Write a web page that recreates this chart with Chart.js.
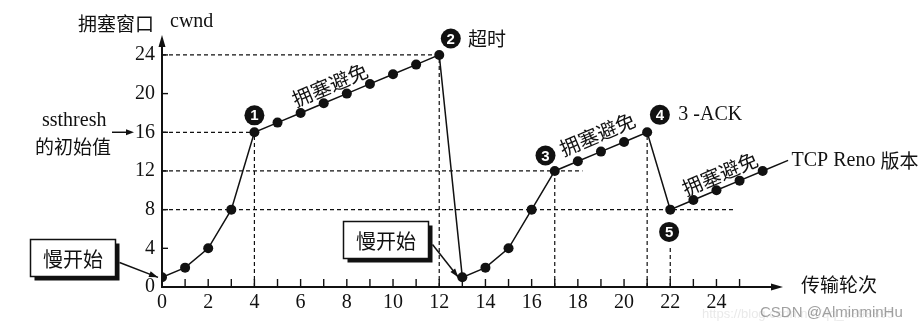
<!DOCTYPE html>
<html><head><meta charset="utf-8">
<script src="https://cdn.jsdelivr.net/npm/chart.js@4/dist/chart.umd.min.js"></script>
<style>html,body{margin:0;padding:0;background:#fff}#wrap{width:919px;height:328px;position:relative}</style>
</head><body><div id="wrap"><canvas id="c" width="919" height="328"></canvas></div>
<script>
// ---- data ----
const rounds = [0,1,2,3,4,5,6,7,8,9,10,11,12,13,14,15,16,17,18,19,20,21,22,23,24,25,26];
const cwnd   = [1,2,4,8,16,17,18,19,20,21,22,23,24,1,2,4,8,12,13,14,15,16,8,9,10,11,12];
const xTickValues = [0,1,2,3,4,5,6,7,8,9,10,11,12,13,14,15,16,17,18,19,20,21,22,23,24,25];
const xTickLabels = ['0','2','4','6','8','10','12','14','16','18','20','22','24'];
const yTickValues = [0,4,8,12,16,20,24];
// dashed guides: horizontal [y, xFrom, xTo], vertical [x, yFrom, yTo]
const hGuides = [[24,0,12],[16,0,4],[12,0,18.2],[8,0,24.8]];
const vGuides = [[4,0,16],[12,0,24],[17,0,12],[21,0,16],[22,0,4.3]];

const SERIF = '"Liberation Serif", "DejaVu Serif", serif';
const CJK = '"Noto Sans CJK SC", "Noto Sans", sans-serif';

function arrowHead(ctx, x1, y1, x2, y2, len, w){
  const a = Math.atan2(y2-y1, x2-x1);
  ctx.beginPath();
  ctx.moveTo(x2, y2);
  ctx.lineTo(x2 - len*Math.cos(a) + w*Math.sin(a), y2 - len*Math.sin(a) - w*Math.cos(a));
  ctx.lineTo(x2 - len*Math.cos(a) - w*Math.sin(a), y2 - len*Math.sin(a) + w*Math.cos(a));
  ctx.closePath(); ctx.fill();
}

const decor = {
  id: 'decor',
  beforeDatasetsDraw(chart){
    const {ctx, chartArea:ca, scales:{x, y}} = chart;
    ctx.save();
    // faint watermark url
    ctx.font = '13px "Liberation Sans", sans-serif'; ctx.fillStyle = 'rgba(200,200,200,0.4)';
    ctx.textBaseline = 'middle'; ctx.fillText('https://blog.csdn.net/qq_3898895', 702, 314);
    ctx.strokeStyle = '#111'; ctx.lineWidth = 1.2; ctx.setLineDash([4,3]);
    hGuides.forEach(([v,a,b])=>{ ctx.beginPath(); ctx.moveTo(x.getPixelForValue(a), y.getPixelForValue(v)); ctx.lineTo(x.getPixelForValue(b), y.getPixelForValue(v)); ctx.stroke(); });
    vGuides.forEach(([v,a,b])=>{ ctx.beginPath(); ctx.moveTo(x.getPixelForValue(v), y.getPixelForValue(a)); ctx.lineTo(x.getPixelForValue(v), y.getPixelForValue(b)); ctx.stroke(); });
    ctx.setLineDash([]);
    // axes
    ctx.lineWidth = 2; ctx.fillStyle = '#111';
    const x0 = x.getPixelForValue(0), y0 = y.getPixelForValue(0);
    ctx.beginPath(); ctx.moveTo(x0, y0); ctx.lineTo(x0, ca.top + 6); ctx.stroke();
    arrowHead(ctx, x0, y0, x0, ca.top, 12, 3.5);
    ctx.beginPath(); ctx.moveTo(x0 - 1, y0); ctx.lineTo(ca.right - 6, y0); ctx.stroke();
    arrowHead(ctx, x0, y0, ca.right, y0, 12, 3.5);
    // inward tick marks
    ctx.lineWidth = 1.4;
    xTickValues.forEach(v=>{ const px = x.getPixelForValue(v); ctx.beginPath(); ctx.moveTo(px, y0); ctx.lineTo(px, y0 - 8); ctx.stroke(); });
    yTickValues.forEach(v=>{ const py = y.getPixelForValue(v); ctx.beginPath(); ctx.moveTo(x0, py); ctx.lineTo(x0 + 6, py); ctx.stroke(); });
    ctx.restore();
  },
  afterDatasetsDraw(chart){
    const {ctx, scales:{x, y}} = chart;
    const X = v => x.getPixelForValue(v), Y = v => y.getPixelForValue(v);
    ctx.save();
    ctx.fillStyle = '#111'; ctx.strokeStyle = '#111';
    ctx.textBaseline = 'middle';
    // axis titles
    ctx.font = '19px ' + CJK; ctx.textAlign = 'left';
    ctx.fillText('拥塞窗口', 78, 24);
    ctx.font = '20px ' + SERIF; ctx.fillText('cwnd', 170, 22);
    ctx.font = '19px ' + CJK; ctx.fillText('传输轮次', 801, Y(0) - 2);
    // ssthresh label
    ctx.font = '20px ' + SERIF; ctx.fillText('ssthresh', 42, 121);
    ctx.font = '19px ' + CJK; ctx.fillText('的初始值', 35, 147);
    ctx.lineWidth = 1.5;
    ctx.beginPath(); ctx.moveTo(112, Y(16)); ctx.lineTo(128, Y(16)); ctx.stroke();
    arrowHead(ctx, 112, Y(16), 134, Y(16), 8, 3);
    // numbered circles
    const circ = (n, cx, cy) => {
      ctx.beginPath(); ctx.arc(cx, cy, 10, 0, Math.PI*2); ctx.fillStyle = '#111'; ctx.fill();
      ctx.fillStyle = '#fff'; ctx.font = 'bold 15px ' + '"Liberation Sans", sans-serif';
      ctx.textAlign = 'center'; ctx.fillText(n, cx, cy + 1);
      ctx.fillStyle = '#111'; ctx.textAlign = 'left';
    };
    circ('1', X(4), Y(17.75));
    circ('2', X(12.5), Y(25.7));
    circ('3', X(16.6), Y(13.6));
    circ('4', X(21.55), Y(17.8));
    circ('5', X(21.95), Y(5.7));
    ctx.font = '19px ' + CJK; ctx.fillText('超时', X(13.25), Y(25.7));
    ctx.font = '20px ' + SERIF; ctx.fillText('3 -ACK', X(22.35), Y(17.8));
    // rotated labels
    const rot = (txt, cx, cy) => {
      ctx.save(); ctx.translate(cx, cy); ctx.rotate(-0.40);
      ctx.font = '20px ' + CJK; ctx.textAlign = 'center'; ctx.fillText(txt, 0, 0); ctx.restore();
    };
    rot('拥塞避免', X(7.27), Y(20.9));
    rot('拥塞避免', X(18.85), Y(15.8));
    rot('拥塞避免', X(24.15), Y(11.7));
    // TCP Reno leader
    ctx.lineWidth = 1.5;
    ctx.beginPath(); ctx.moveTo(X(26), Y(12)); ctx.lineTo(X(27.1), Y(13.1)); ctx.stroke();
    ctx.font = '20px ' + SERIF; ctx.fillText('TCP Reno', X(27.25), Y(13.1));
    const w = ctx.measureText('TCP Reno ').width;
    ctx.font = '19px ' + CJK; ctx.fillText('版本', X(27.25) + w, Y(13.1));
    // slow start boxes
    const box = (cx, cy, px, py) => {
      const bw = 85, bh = 37, l = cx - bw/2, t = cy - bh/2;
      ctx.fillStyle = '#111'; ctx.fillRect(l + 4, t + 4, bw, bh);
      ctx.fillStyle = '#fff'; ctx.fillRect(l, t, bw, bh);
      ctx.lineWidth = 1.5; ctx.strokeRect(l, t, bw, bh);
      ctx.fillStyle = '#111'; ctx.font = '20px ' + CJK; ctx.textAlign = 'center';
      ctx.fillText('慢开始', cx, cy + 1); ctx.textAlign = 'left';
      const sx = l + bw + 4, sy = t + bh - 14;
      ctx.beginPath(); ctx.moveTo(sx, sy); ctx.lineTo(px, py); ctx.stroke();
      arrowHead(ctx, sx, sy, px, py, 9, 3);
    };
    box(73, 258, X(0) - 4, Y(1));
    box(386, 240, X(13) - 4, Y(1));
    // watermark
    ctx.font = '15px "Liberation Sans", sans-serif'; ctx.fillStyle = 'rgba(150,150,150,0.9)';
    ctx.fillText('CSDN @AlminminHu', 760, 313);
    ctx.restore();
  }
};

new Chart(document.getElementById('c'), {
  type: 'line',
  data: {
    labels: rounds,
    datasets: [{
      data: rounds.map((r, i) => ({x: r, y: cwnd[i]})),
      borderColor: '#111', backgroundColor: '#111', borderWidth: 1.5,
      pointRadius: 5, pointBackgroundColor: '#111', pointBorderWidth: 0,
      tension: 0, fill: false
    }]
  },
  options: {
    responsive: false, animation: false,
    layout: { padding: { left: 0, right: 136, top: 35, bottom: 0 } },
    plugins: { legend: { display: false }, tooltip: { enabled: false } },
    scales: {
      x: {
        type: 'linear', min: 0, max: 26.88,
        grid: { display: false, drawTicks: false }, border: { display: false },
        afterBuildTicks: s => { s.ticks = xTickValues.map(v => ({value: v})); },
        afterFit: s => { s.height = 41; },
        ticks: { autoSkip: false, maxRotation: 0, padding: 4, color: '#111',
          font: { family: SERIF, size: 20 },
          callback: v => (xTickLabels.includes(String(v)) ? String(v) : '') }
      },
      y: {
        min: 0, max: 26.06,
        grid: { display: false, drawTicks: false }, border: { display: false },
        afterBuildTicks: s => { s.ticks = yTickValues.map(v => ({value: v})); },
        afterFit: s => { s.width = 162; },
        ticks: { padding: 7, color: '#111', font: { family: SERIF, size: 20 } }
      }
    }
  },
  plugins: [decor]
});
</script></body></html>
